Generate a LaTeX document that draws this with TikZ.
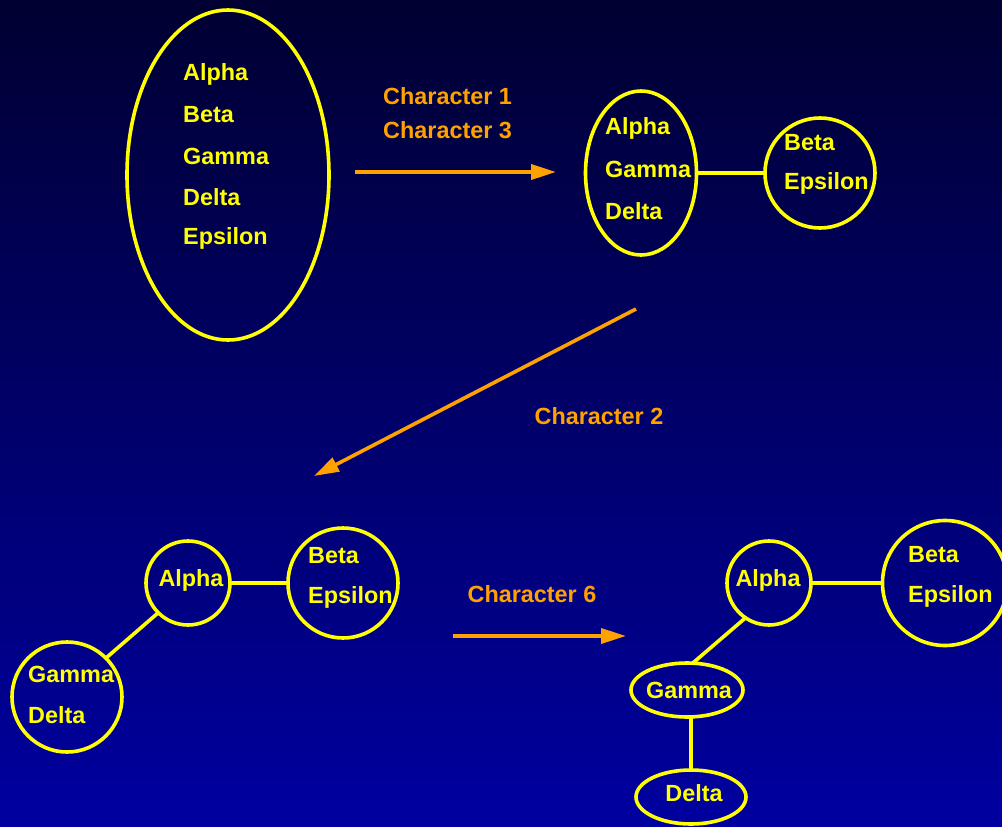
\documentclass[tikz,border=0pt]{standalone}
\usepackage{fontspec}
\setmainfont{Liberation Sans}
\usetikzlibrary{shapes.geometric,arrows.meta}
\definecolor{bgtop}{RGB}{0,0,50}
\definecolor{bgbot}{RGB}{0,0,160}
\definecolor{ylw}{RGB}{255,255,0}
\definecolor{org}{RGB}{255,162,0}
\tikzset{
  shp/.style={draw=ylw,line width=3.6pt,inner sep=0pt,outer sep=0pt},
  circ/.style={shp,circle,minimum size=#1},
  ell/.style={shp,ellipse,minimum width=#1},
  txt/.style={text=ylw,font=\fontsize{23.4}{28}\selectfont\bfseries,inner sep=0pt,anchor=west},
  ctxt/.style={text=ylw,font=\fontsize{23.4}{28}\selectfont\bfseries,inner sep=0pt},
  lab/.style={text=org,font=\fontsize{23.4}{28}\selectfont\bfseries,inner sep=0pt},
  edge/.style={draw=ylw,line width=3.6pt},
  arr/.style={draw=org,line width=3.6pt,-{Triangle[length=25pt,width=15pt]}}
}
\begin{document}
\begin{tikzpicture}[x=1pt,y=-1pt]
\useasboundingbox (0,0) rectangle (1002,827);
\clip (0,0) rectangle (1002,827);
\shade[top color=bgtop,bottom color=bgbot] (0,0) rectangle (1002,827);

% top-left big ellipse
\node[ell=202pt,minimum height=330pt] (e1) at (228,175) {};
\node[txt] (t1a) at (183,74) {Alpha};
\node[txt] (t1b) at (183,115) {Beta};
\node[txt] (t1c) at (183,156) {Gamma};
\node[txt] (t1d) at (183,197) {Delta};
\node[txt] (t1e) at (183,238) {Epsilon};

% arrow 1
\coordinate (a1s) at (355,172);
\coordinate (a1e) at (556,172);
\draw[arr] (a1s) -- (a1e);
\node[lab,anchor=west] (l1) at (383,96) {Character 1};
\node[lab,anchor=west] (l3) at (383,130) {Character 3};

% top-right
\node[ell=111pt,minimum height=164pt] (e2) at (641,173) {};
\node[txt] (t2a) at (605,128) {Alpha};
\node[txt] (t2b) at (605,169) {Gamma};
\node[txt] (t2c) at (605,211) {Delta};
\node[circ=110pt] (c2) at (820,173) {};
\node[txt] (t2d) at (784,143) {Beta};
\node[txt] (t2e) at (784,183) {Epsilon};
\draw[edge] (e2.east) -- (c2.west);

% arrow 2
\coordinate (a2s) at (636,309);
\coordinate (a2e) at (314,476);
\draw[arr] (a2s) -- (a2e);
\node[lab] (l2) at (599,416) {Character 2};

% bottom-left
\node[circ=84pt] (c3a) at (188,583) {};
\node[ctxt] (t3a) at (191,580) {Alpha};
\node[circ=110pt] (c3b) at (343,583) {};
\node[txt] (t3b) at (308,556) {Beta};
\node[txt] (t3c) at (308,597) {Epsilon};
\node[circ=110pt] (c3c) at (67,697) {};
\node[txt] (t3d) at (28,674) {Gamma};
\node[txt] (t3e) at (28,715) {Delta};
\draw[edge] (c3a.east) -- (c3b.west);
\draw[edge] (c3a.225) -- (c3c.45);

% arrow 3
\coordinate (a3s) at (453,636);
\coordinate (a3e) at (626,636);
\draw[arr] (a3s) -- (a3e);
\node[lab] (l6) at (532,594) {Character 6};

% bottom-right
\node[circ=84pt] (c4a) at (769,583) {};
\node[ctxt] (t4a) at (768,580) {Alpha};
\node[circ=125pt] (c4b) at (945,583) {};
\node[txt] (t4b) at (908,555) {Beta};
\node[txt] (t4c) at (908,596) {Epsilon};
\node[ell=112pt,minimum height=54pt] (e4g) at (687,690) {};
\node[ctxt] (t4g) at (689,690) {Gamma};
\node[ell=110pt,minimum height=54pt] (e4d) at (691,797) {};
\node[ctxt] (t4d) at (694,793) {Delta};
\draw[edge] (c4a.east) -- (c4b.west);
\draw[edge] (c4a.236) -- (e4g.78);
\draw[edge] (e4d.north |- e4g.south) -- (e4d.north);
\end{tikzpicture}
\end{document}
